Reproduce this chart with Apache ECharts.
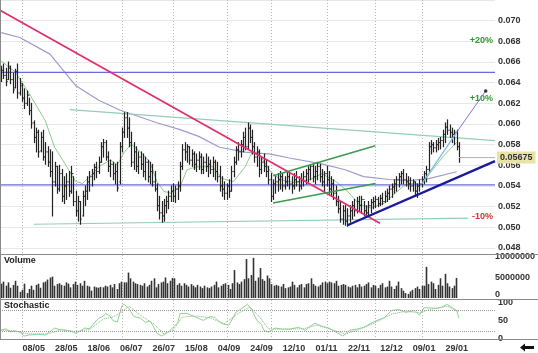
<!DOCTYPE html>
<html><head><meta charset="utf-8">
<script src="https://cdn.jsdelivr.net/npm/echarts@6/dist/echarts.min.js"></script>
<style>html,body{margin:0;padding:0;background:#fff}#c{width:538px;height:353px}</style>
</head><body><div id="c"></div>
<script>
// ---------- axis labels ----------
const tickIndex = [14,28,42,56,70,84,98,112,126,140,154,168,182,196];
const tickLabels = ['08/05','28/05','18/06','06/07','26/07','15/08','04/09','24/09','12/10','01/11','22/11','12/12','09/01','29/01'];
const monthStarts = [9,32,52,74,97,116,140,161,181];
const slotCount = 213;

// ---------- price bars ----------
const open = [0.0649,0.0652,0.0647,0.0643,0.0654,0.0643,0.0635,0.0651,0.0630,0.0637,
0.0625,0.0620,0.0628,0.0613,0.0601,0.0587,0.0592,0.0574,0.0587,0.0568,
0.0573,0.0563,0.0554,0.0544,0.0559,0.0537,0.0552,0.0530,0.0540,0.0544,
0.0535,0.0552,0.0525,0.0516,0.0525,0.0511,0.0530,0.0535,0.0544,0.0549,
0.0552,0.0558,0.0554,0.0563,0.0578,0.0582,0.0568,0.0559,0.0561,0.0552,
0.0554,0.0544,0.0578,0.0592,0.0606,0.0596,0.0582,0.0563,0.0573,0.0559,
0.0568,0.0561,0.0554,0.0563,0.0549,0.0554,0.0544,0.0537,0.0521,0.0514,
0.0511,0.0521,0.0525,0.0530,0.0535,0.0530,0.0537,0.0540,0.0559,0.0575,
0.0573,0.0578,0.0565,0.0571,0.0561,0.0565,0.0568,0.0556,0.0563,0.0559,
0.0561,0.0556,0.0563,0.0554,0.0549,0.0540,0.0537,0.0533,0.0540,0.0535,
0.0554,0.0563,0.0575,0.0573,0.0580,0.0587,0.0578,0.0596,0.0587,0.0578,
0.0568,0.0573,0.0556,0.0563,0.0559,0.0554,0.0546,0.0530,0.0542,0.0544,
0.0546,0.0549,0.0540,0.0544,0.0549,0.0542,0.0540,0.0546,0.0544,0.0540,
0.0546,0.0549,0.0552,0.0556,0.0559,0.0549,0.0554,0.0559,0.0549,0.0544,
0.0552,0.0546,0.0537,0.0542,0.0533,0.0525,0.0518,0.0508,0.0516,0.0506,
0.0511,0.0516,0.0521,0.0516,0.0525,0.0521,0.0527,0.0516,0.0514,0.0521,
0.0524,0.0525,0.0527,0.0523,0.0528,0.0525,0.0530,0.0533,0.0537,0.0539,
0.0542,0.0546,0.0549,0.0552,0.0546,0.0544,0.0542,0.0540,0.0544,0.0535,
0.0540,0.0542,0.0546,0.0552,0.0556,0.0578,0.0580,0.0577,0.0580,0.0582,
0.0584,0.0590,0.0597,0.0594,0.0592,0.0590,0.0592,0.0578];
const high = [0.0656,0.0658,0.0654,0.0660,0.0656,0.0649,0.0653,0.0658,0.0644,0.0639,
0.0634,0.0632,0.0625,0.0620,0.0603,0.0596,0.0594,0.0592,0.0594,0.0582,
0.0578,0.0575,0.0573,0.0563,0.0559,0.0560,0.0556,0.0549,0.0552,0.0554,
0.0559,0.0549,0.0535,0.0530,0.0525,0.0535,0.0540,0.0549,0.0554,0.0556,
0.0561,0.0563,0.0568,0.0582,0.0585,0.0584,0.0573,0.0565,0.0563,0.0561,
0.0563,0.0582,0.0596,0.0611,0.0611,0.0606,0.0592,0.0582,0.0578,0.0573,
0.0573,0.0571,0.0568,0.0565,0.0563,0.0561,0.0554,0.0542,0.0530,0.0525,
0.0527,0.0530,0.0535,0.0540,0.0542,0.0540,0.0544,0.0563,0.0580,0.0582,
0.0580,0.0578,0.0575,0.0573,0.0571,0.0573,0.0571,0.0568,0.0571,0.0568,
0.0565,0.0568,0.0565,0.0563,0.0559,0.0549,0.0544,0.0542,0.0546,0.0559,
0.0568,0.0578,0.0582,0.0584,0.0592,0.0596,0.0601,0.0599,0.0594,0.0582,
0.0578,0.0575,0.0568,0.0571,0.0565,0.0559,0.0552,0.0546,0.0549,0.0552,
0.0554,0.0552,0.0549,0.0554,0.0552,0.0549,0.0552,0.0554,0.0549,0.0552,
0.0554,0.0556,0.0559,0.0560,0.0561,0.0559,0.0563,0.0561,0.0556,0.0554,
0.0559,0.0554,0.0549,0.0546,0.0540,0.0530,0.0525,0.0521,0.0521,0.0518,
0.0521,0.0525,0.0527,0.0529,0.0530,0.0530,0.0525,0.0521,0.0525,0.0527,
0.0529,0.0530,0.0529,0.0531,0.0533,0.0535,0.0537,0.0540,0.0542,0.0546,
0.0549,0.0552,0.0554,0.0556,0.0552,0.0549,0.0548,0.0546,0.0544,0.0542,
0.0546,0.0549,0.0554,0.0559,0.0582,0.0584,0.0582,0.0584,0.0586,0.0587,
0.0594,0.0601,0.0604,0.0599,0.0596,0.0594,0.0594,0.0582];
const low = [0.0641,0.0644,0.0637,0.0643,0.0639,0.0630,0.0635,0.0625,0.0628,0.0622,
0.0615,0.0618,0.0609,0.0596,0.0582,0.0573,0.0568,0.0573,0.0565,0.0561,
0.0559,0.0549,0.0511,0.0540,0.0533,0.0535,0.0525,0.0523,0.0527,0.0530,
0.0533,0.0521,0.0511,0.0506,0.0503,0.0511,0.0521,0.0527,0.0535,0.0540,
0.0546,0.0548,0.0552,0.0563,0.0568,0.0565,0.0554,0.0549,0.0546,0.0542,
0.0535,0.0542,0.0573,0.0587,0.0587,0.0578,0.0559,0.0556,0.0554,0.0552,
0.0556,0.0549,0.0546,0.0544,0.0542,0.0540,0.0535,0.0516,0.0508,0.0505,
0.0506,0.0514,0.0518,0.0525,0.0525,0.0524,0.0527,0.0535,0.0556,0.0565,
0.0563,0.0561,0.0559,0.0556,0.0554,0.0556,0.0552,0.0552,0.0554,0.0549,
0.0552,0.0549,0.0546,0.0544,0.0535,0.0530,0.0527,0.0527,0.0529,0.0535,
0.0549,0.0561,0.0565,0.0568,0.0573,0.0575,0.0576,0.0582,0.0571,0.0563,
0.0559,0.0549,0.0552,0.0554,0.0549,0.0542,0.0525,0.0527,0.0533,0.0535,
0.0537,0.0535,0.0537,0.0540,0.0537,0.0533,0.0537,0.0540,0.0535,0.0537,
0.0540,0.0542,0.0544,0.0546,0.0544,0.0542,0.0546,0.0544,0.0540,0.0535,
0.0540,0.0533,0.0530,0.0527,0.0521,0.0514,0.0505,0.0503,0.0502,0.0501,
0.0505,0.0508,0.0511,0.0514,0.0516,0.0514,0.0511,0.0510,0.0511,0.0514,
0.0518,0.0519,0.0520,0.0521,0.0522,0.0524,0.0525,0.0527,0.0529,0.0533,
0.0535,0.0539,0.0542,0.0542,0.0540,0.0537,0.0535,0.0535,0.0530,0.0529,
0.0535,0.0539,0.0542,0.0544,0.0554,0.0571,0.0573,0.0573,0.0575,0.0576,
0.0578,0.0582,0.0590,0.0587,0.0582,0.0580,0.0575,0.0563];
const close = [0.0652,0.0647,0.0641,0.0656,0.0643,0.0633,0.0651,0.0630,0.0639,0.0625,
0.0620,0.0628,0.0613,0.0601,0.0587,0.0592,0.0573,0.0587,0.0568,0.0573,
0.0563,0.0554,0.0544,0.0559,0.0537,0.0552,0.0530,0.0540,0.0544,0.0535,
0.0552,0.0525,0.0516,0.0525,0.0508,0.0530,0.0535,0.0544,0.0549,0.0552,
0.0558,0.0554,0.0563,0.0578,0.0582,0.0568,0.0559,0.0561,0.0552,0.0554,
0.0538,0.0578,0.0592,0.0606,0.0596,0.0582,0.0563,0.0573,0.0559,0.0568,
0.0561,0.0554,0.0563,0.0549,0.0554,0.0544,0.0537,0.0521,0.0514,0.0511,
0.0521,0.0525,0.0530,0.0535,0.0530,0.0537,0.0540,0.0559,0.0575,0.0573,
0.0578,0.0565,0.0571,0.0561,0.0565,0.0568,0.0556,0.0563,0.0559,0.0561,
0.0556,0.0563,0.0554,0.0549,0.0540,0.0537,0.0533,0.0540,0.0535,0.0554,
0.0563,0.0575,0.0573,0.0580,0.0587,0.0578,0.0596,0.0587,0.0578,0.0568,
0.0573,0.0556,0.0563,0.0559,0.0554,0.0546,0.0530,0.0542,0.0544,0.0546,
0.0549,0.0540,0.0544,0.0549,0.0542,0.0540,0.0546,0.0544,0.0540,0.0546,
0.0549,0.0552,0.0556,0.0559,0.0549,0.0554,0.0559,0.0549,0.0544,0.0552,
0.0546,0.0537,0.0542,0.0533,0.0525,0.0518,0.0508,0.0516,0.0506,0.0511,
0.0516,0.0521,0.0516,0.0525,0.0521,0.0527,0.0516,0.0514,0.0521,0.0524,
0.0525,0.0527,0.0523,0.0528,0.0525,0.0530,0.0533,0.0537,0.0539,0.0542,
0.0546,0.0549,0.0552,0.0546,0.0544,0.0542,0.0540,0.0544,0.0535,0.0540,
0.0542,0.0546,0.0552,0.0556,0.0578,0.0580,0.0577,0.0580,0.0582,0.0584,
0.0590,0.0597,0.0594,0.0592,0.0590,0.0592,0.0578,0.05675];

// ---------- volume ----------
const volume = [3500000,4000000,3000000,3800000,2500000,3200000,4200000,
3000000,1500000,2000000,3500000,1200000,2200000,
3000000,2000000,3200000,3500000,2500000,3800000,4000000,
4500000,5000000,5200000,3000000,3400000,
3600000,3200000,3000000,3800000,3500000,2600000,3400000,
4000000,3200000,3600000,3000000,4200000,3000000,2800000,
1800000,2800000,2600000,2500000,2700000,2600000,3000000,
2800000,3200000,2600000,3400000,2200000,3600000,4000000,
3800000,3800000,6200000,4800000,4000000,
3600000,3400000,3200000,3000000,3600000,2800000,3200000,
4200000,4800000,2600000,3400000,3800000,4000000,5000000,
3600000,4200000,4900000,4800000,3200000,3600000,3000000,
3600000,3200000,2800000,3400000,3000000,2600000,3200000,
2800000,2400000,3000000,2600000,2400000,2800000,3200000,
4000000,2600000,3000000,3400000,3600000,3200000,2200000,
3600000,6800000,3800000,3400000,4000000,4600000,9500000,4800000,5600000,9800000,4200000,5000000,7300000,4600000,
4200000,5500000,4800000,3400000,3000000,3200000,3000000,
2800000,3400000,2400000,2600000,2800000,4000000,3200000,
2600000,3200000,3400000,2600000,3400000,3600000,4800000,
3400000,3000000,2800000,3200000,3800000,4000000,3600000,
4000000,3800000,3600000,4200000,3000000,3200000,3400000,
3200000,2800000,2600000,3000000,3200000,2600000,3400000,
2800000,3000000,3400000,3800000,2600000,3200000,3000000,
2400000,3200000,3600000,2600000,2800000,4200000,2800000,
2200000,3000000,4000000,2400000,1800000,1200000,1000000,
1600000,2000000,2400000,2800000,2200000,3000000,3000000,
7600000,3400000,4000000,3600000,2200000,3200000,4800000,
3000000,5900000,3600000,2800000,2400000,3000000,4900000];

// ---------- stochastic ----------
const stochK = [[0,24],[2,28],[4,20],[6,22],[8,19],[10,8],[12,11],[16,13],[19,11],[21,20],[23,30],[25,26],[27,24],[30,22],[32,16],[34,22],[36,30],[38,28],[40,43],[42,57],[44,63],[45,70],[47,62],[48,51],[50,46],[52,92],[53,95],[54,88],[55,84],[57,62],[60,57],[62,46],[64,49],[65,40],[67,16],[69,8],[72,19],[74,32],[76,45],[77,70],[80,70],[83,62],[87,51],[90,62],[92,59],[94,46],[96,40],[98,38],[101,73],[104,86],[106,95],[108,78],[110,51],[112,40],[113,24],[115,19],[118,30],[121,27],[124,27],[128,32],[131,24],[133,35],[135,43],[138,35],[141,30],[144,19],[147,8],[150,24],[153,27],[156,32],[161,49],[165,59],[168,78],[171,81],[174,73],[178,78],[180,65],[182,86],[187,84],[189,86],[192,95],[194,86],[196,78],[197,57]];
const stochD = [[0,25],[6,22],[12,14],[20,14],[26,26],[32,20],[38,26],[44,55],[48,60],[52,75],[55,90],[60,65],[66,40],[70,14],[74,25],[78,60],[84,63],[90,58],[96,42],[102,70],[107,88],[111,62],[115,28],[122,27],[130,28],[136,38],[142,26],[148,14],[154,26],[160,42],[168,68],[174,76],[180,72],[185,82],[192,90],[197,75]];

// ---------- moving averages ----------
const maLong = [[0,0.06885],[8,0.06837],[21,0.06676],[32,0.06373],[42,0.0623],[51,0.06136],[67,0.06012],[77,0.05946],[85,0.0588],[94,0.05775],[105,0.05728],[116,0.05709],[124,0.05671],[138,0.05614],[148,0.05557],[156,0.05491],[167,0.05463],[176,0.05453],[184,0.05472],[196,0.05538]];
const maShort = [[0,0.0661],[6,0.06505],[12,0.06297],[19,0.06031],[23,0.05775],[27,0.05633],[32,0.05444],[35,0.05425],[39,0.0551],[42,0.05586],[47,0.05652],[50,0.05605],[53,0.05728],[56,0.05804],[60,0.05728],[64,0.05633],[67,0.05444],[70,0.05349],[73,0.0533],[77,0.05396],[80,0.05557],[84,0.05586],[91,0.05586],[95,0.05472],[100,0.05444],[105,0.05586],[108,0.05728],[111,0.05709],[116,0.05538],[120,0.05463],[126,0.05434],[133,0.05463],[138,0.05519],[144,0.05444],[149,0.05349],[154,0.05226],[159,0.05188],[165,0.05235],[169,0.0532],[174,0.05415],[178,0.05425],[181,0.05415],[185,0.05538],[190,0.05681],[196,0.05823]];

// ---------- drawn lines ----------
const resistanceLevel = [[-0.5,0.0650],[212.5,0.0650]];
const supportLevel = [[-0.5,0.0541],[212.5,0.0541]];
const trendDown = [[-0.5,0.0710],[163,0.0504]];
const tealUpper = [[29.5,0.0614],[212.5,0.0584]];
const tealLower = [[14,0.0503],[201,0.0509]];
const channelUpper = [[117,0.0550],[161,0.0579]];
const channelLower = [[117,0.05235],[161,0.05425]];
const trendUp = [[149,0.0502],[212.5,0.0564]];
const trendShort = [[181,0.0542],[196,0.0592]];
const projection = [[196,0.0592],[208.5,0.0632]];
const lastPrice = 0.05675;
const pctLevels = [20,10,-10];

// ---------------------------------------------------------
const FF = '"Liberation Sans", Arial, sans-serif';
const chart = echarts.init(document.getElementById('c'));
const ohlc = open.map((o,i)=>[i,o,high[i],low[i],close[i]]);
const vol = volume.map((v,i)=>[i,v]);

function hx(i){return {gridIndex:i,type:'value',min:-0.5,max:slotCount-0.5,show:false,splitLine:{show:false}};}
function lineS(data,color,width,extra){return Object.assign({type:'line',data:data,showSymbol:false,symbol:'none',silent:true,
  xAxisIndex:0,yAxisIndex:0,lineStyle:{color:color,width:width},z:3},extra||{});}
const labelStyle = {fontSize:9,fontWeight:'bold',color:'#333',fontFamily:FF};

const option = {
  animation:false,
  backgroundColor:'#fff',
  grid:[
    {left:0,right:43,top:-5.1,height:253.1},
    {left:0,right:43,top:257,height:41},
    {left:0,right:43,top:302.5,height:36.5}
  ],
  xAxis:[hx(0),hx(1),{gridIndex:2,type:'value',min:-0.5,max:slotCount-0.5,
    axisLine:{show:false},axisTick:{show:false},splitLine:{show:false},
    axisLabel:Object.assign({margin:5,customValues:tickIndex,
      formatter:v=>{const k=tickIndex.indexOf(Math.round(v));return k>=0?tickLabels[k]:'';}},labelStyle)}],
  yAxis:[
    {gridIndex:0,type:'value',position:'right',min:0.048,max:0.072,interval:0.002,
      axisLine:{show:false},axisTick:{show:false},
      splitLine:{lineStyle:{color:'#e8e8e8',width:1}},
      axisLabel:Object.assign({margin:3,showMaxLabel:false,formatter:v=>v.toFixed(3)},labelStyle)},
    {gridIndex:1,type:'value',position:'right',min:0,max:10000000,interval:5000000,
      axisLine:{show:false},axisTick:{show:false},splitLine:{show:false},
      axisLabel:Object.assign({margin:3,formatter:v=>v===0?'{up|0}':String(Math.round(v)),
        rich:{up:{padding:[0,0,6,0],fontSize:9,fontWeight:'bold',color:'#333',fontFamily:FF}}},labelStyle)},
    {gridIndex:2,type:'value',position:'right',min:0,max:100,interval:50,
      axisLine:{show:false},axisTick:{show:false},splitLine:{show:false},
      axisLabel:Object.assign({margin:3},labelStyle)}
  ],
  series:[
    lineS(maLong,'#9c9ccc',1.2,{z:2}),
    lineS(maShort,'#8ccc8c',1,{z:2}),
    {type:'custom',xAxisIndex:0,yAxisIndex:0,data:ohlc,silent:true,z:4,clip:true,
      encode:{x:0,y:[1,2,3,4]},
      renderItem:function(params,api){
        const x=api.value(0);
        const o=api.coord([x,api.value(1)]),h=api.coord([x,api.value(2)]),
              l=api.coord([x,api.value(3)]),c=api.coord([x,api.value(4)]);
        const px=Math.round(h[0])+0.5;
        const st={stroke:'#222',lineWidth:1.2};
        return {type:'group',children:[
          {type:'line',shape:{x1:px,y1:h[1]-0.5,x2:px,y2:l[1]+0.5},style:st},
          {type:'line',shape:{x1:px-1.2,y1:o[1],x2:px,y2:o[1]},style:{stroke:'#222',lineWidth:1}},
          {type:'line',shape:{x1:px,y1:c[1],x2:px+1.2,y2:c[1]},style:{stroke:'#222',lineWidth:1}}
        ]};
      }},
    lineS(resistanceLevel,'#6a6ad8',1.2),
    lineS(supportLevel,'#6a6ad8',1.2),
    lineS(tealUpper,'#95ccb8',1.2),
    lineS(tealLower,'#95ccb8',1.2),
    lineS(trendDown,'#e0306e',1.8,{z:5}),
    lineS(channelUpper,'#3c9a50',1.6,{z:5}),
    lineS(channelLower,'#3c9a50',1.6,{z:5}),
    lineS(trendUp,'#1a1a9a',2.4,{z:5}),
    lineS(trendShort,'#80b8e8',1.3,{z:5}),
    lineS(projection,'#7a7ad0',1,{z:5,showSymbol:true,symbol:'circle',symbolSize:0,
      data:[projection[0],{value:projection[1],symbol:'circle',symbolSize:3.5,itemStyle:{color:'#333'}}]}),
    lineS([[close.length-1,lastPrice],[slotCount-0.5,lastPrice]],'#b0b0b0',1,{z:5,
      markPoint:{silent:true,symbol:'rect',symbolSize:0,
        data:[
          {coord:[slotCount-0.5,lastPrice],label:{show:true,position:'right',distance:2,
             formatter:String(lastPrice),backgroundColor:'#e8e4a6',padding:[2,3,1,3],
             fontSize:9,fontWeight:'bold',color:'#333',fontFamily:FF}}
        ].concat(pctLevels.map(p=>({coord:[slotCount-1.4,lastPrice*(1+p/100)],
          label:{show:true,position:'left',distance:0,formatter:(p>0?'+':'')+p+'%',
            fontSize:9,fontWeight:'bold',color:p>0?'#2e9a2e':'#d83030',fontFamily:FF}})))}}),
    {type:'custom',xAxisIndex:1,yAxisIndex:1,data:vol,silent:true,encode:{x:0,y:1},
      renderItem:function(params,api){
        const p=api.coord([api.value(0),api.value(1)]);
        const b=api.coord([api.value(0),0]);
        return {type:'rect',shape:{x:Math.round(p[0])-0.3,y:p[1],width:1.6,height:b[1]-p[1]},style:{fill:'#333'}};
      }},
    {type:'line',xAxisIndex:2,yAxisIndex:2,data:stochD,showSymbol:false,silent:true,
      lineStyle:{color:'#8aa88a',width:1,type:'dotted'}},
    {type:'line',xAxisIndex:2,yAxisIndex:2,data:stochK,showSymbol:false,silent:true,
      lineStyle:{color:'#8fd48f',width:1},
      markLine:{silent:true,symbol:'none',label:{show:false},
        lineStyle:{color:'#999',type:'dotted',width:1},
        data:[{yAxis:20},{yAxis:80}]}}
  ]
};
chart.setOption(option);

const g = [];
monthStarts.forEach(m=>{
  const x = Math.round(chart.convertToPixel({xAxisIndex:0},m))+0.5;
  g.push({type:'line',silent:true,z:0,shape:{x1:x,y1:0,x2:x,y2:339},
    style:{stroke:'#b8b8b8',lineWidth:1,lineDash:[1,2]}});
});
[[254.5,538],[299.5,538],[339.5,538]].forEach(d=>{
  g.push({type:'line',silent:true,z:10,shape:{x1:0,y1:d[0],x2:d[1],y2:d[0]},style:{stroke:'#8a8a8a',lineWidth:1}});
});
g.push({type:'line',silent:true,z:10,shape:{x1:0.5,y1:0,x2:0.5,y2:339},style:{stroke:'#8a8a8a',lineWidth:1}});
g.push({type:'text',silent:true,z:10,left:4,top:256,style:{text:'Volume',fontSize:9,fontWeight:'bold',fill:'#222',fontFamily:FF}});
g.push({type:'text',silent:true,z:10,left:4,top:301,style:{text:'Stochastic',fontSize:9,fontWeight:'bold',fill:'#222',fontFamily:FF}});
g.push({type:'polygon',silent:true,z:10,shape:{points:[[520,347.5],[525,343.5],[525,346],[534,346],[534,349],[525,349],[525,351.5]]},style:{fill:'#111'}});
chart.setOption({graphic:g});
</script></body></html>
